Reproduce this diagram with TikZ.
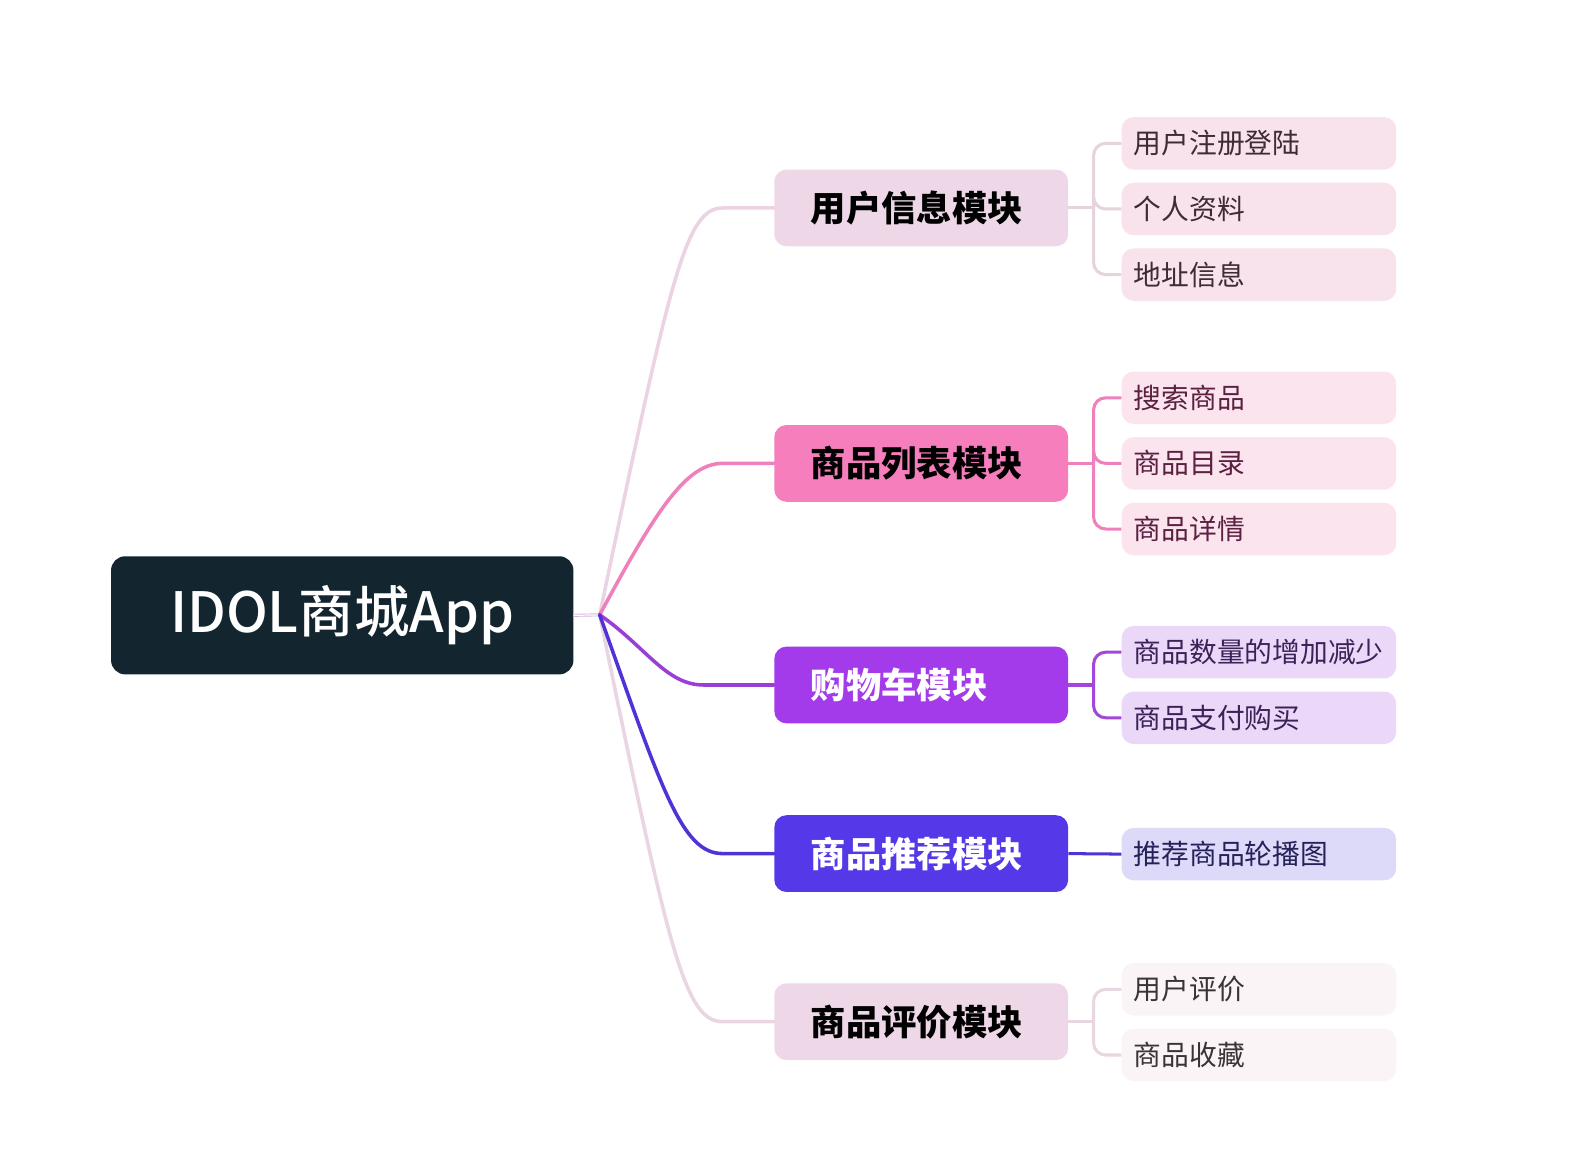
\documentclass[tikz,border=0pt]{standalone}
\usepackage{fontspec}
\setmainfont{Noto Sans CJK SC}
\newfontfamily\rootfont{Noto Sans CJK SC Medium}
\usetikzlibrary{calc}
\definecolor{rootc}{HTML}{13262F}
\definecolor{lightbox}{HTML}{EED8E8}
\definecolor{pinkbox}{HTML}{F77EBD}
\definecolor{purplebox}{HTML}{A33BEA}
\definecolor{indigobox}{HTML}{5538E7}
\definecolor{lightline}{HTML}{EBD3E3}
\definecolor{pinkline}{HTML}{EE80BC}
\definecolor{purpleline}{HTML}{9A3FD6}
\definecolor{indigoline}{HTML}{5132D8}
\definecolor{lightlineb}{HTML}{EAD5E2}
\definecolor{gonefill}{HTML}{F8E2EC}
\definecolor{gtwofill}{HTML}{FCE4EF}
\definecolor{gthreefill}{HTML}{EBD8F8}
\definecolor{gfourfill}{HTML}{DDD9F8}
\definecolor{gfivefill}{HTML}{FBF4F7}
\definecolor{gonetext}{HTML}{3D2B36}
\definecolor{gtwotext}{HTML}{5A2141}
\definecolor{gthreetext}{HTML}{3B2358}
\definecolor{gfourtext}{HTML}{25215A}
\definecolor{gfivetext}{HTML}{3A3338}
\definecolor{gonebr}{HTML}{E5D3DD}
\definecolor{gthreebr}{HTML}{A346DA}
\definecolor{gfivebr}{HTML}{E8D6E0}
\definecolor{rootline}{HTML}{D9B5DC}
\begin{document}
\begin{tikzpicture}[x=1pt,y=-1pt,
  rootbox/.style={rounded corners=14pt, fill=rootc, minimum width=458pt, minimum height=117pt,
    inner sep=0pt, text=white, font=\rootfont\fontsize{55pt}{60pt}\selectfont},
  lvone/.style={rounded corners=12pt, minimum width=291pt, minimum height=76pt,
    text width=219pt, inner xsep=36pt, inner ysep=0pt, align=left,
    font=\fontsize{35pt}{40pt}\selectfont\bfseries},
  lvtwo/.style={rounded corners=12pt, minimum width=272pt, minimum height=52pt,
    text width=248pt, inner xsep=12pt, inner ysep=0pt, align=left,
    font=\fontsize{27.5pt}{32pt}\selectfont},
  mainlink/.style={line width=3.5pt, line cap=round},
  sublink/.style={line width=3pt, rounded corners=12pt}
]
\useasboundingbox[fill=white] (0,0) rectangle (1568,1142);

% root
\node[rootbox] (root) at (339,609.5) {IDOL商城App};
\coordinate (J) at (594,609);

% level one
\node[lvone, fill=lightbox, text=black] (n1) at (912.5,206) {用户信息模块};
\node[lvone, fill=pinkbox, text=black] (n2) at (912.5,459) {商品列表模块};
\node[lvone, fill=purplebox, text=white] (n3) at (912.5,678.5) {购物车模块};
\node[lvone, fill=indigobox, text=white] (n4) at (912.5,845.5) {商品推荐模块};
\node[lvone, fill=lightbox, text=black] (n5) at (912.5,1012) {商品评价模块};

% level two
\node[lvtwo, fill=gonefill, text=gonetext] (a1) at (1247,142) {用户注册登陆};
\node[lvtwo, fill=gonefill, text=gonetext] (a2) at (1247,207) {个人资料};
\node[lvtwo, fill=gonefill, text=gonetext] (a3) at (1247,272) {地址信息};
\node[lvtwo, fill=gtwofill, text=gtwotext] (b1) at (1247,394) {搜索商品};
\node[lvtwo, fill=gtwofill, text=gtwotext] (b2) at (1247,459) {商品目录};
\node[lvtwo, fill=gtwofill, text=gtwotext] (b3) at (1247,524) {商品详情};
\node[lvtwo, fill=gthreefill, text=gthreetext] (c1) at (1247,646) {商品数量的增加减少};
\node[lvtwo, fill=gthreefill, text=gthreetext] (c2) at (1247,711) {商品支付购买};
\node[lvtwo, fill=gfourfill, text=gfourtext] (d1) at (1247,846) {推荐商品轮播图};
\node[lvtwo, fill=gfivefill, text=gfivetext] (e1) at (1247,980) {用户评价};
\node[lvtwo, fill=gfivefill, text=gfivetext] (e2) at (1247,1045) {商品收藏};

% root to junction
\draw[draw=rootline, line width=0.9pt, double=white, double distance=1.2pt] (root.east) -- (J);

% level one links
\draw[mainlink, lightline] (J) .. controls +(70,-334) and ($(n1.west)+(-88,0)$) .. ($(n1.west)+(-51,0)$) -- (n1.west);
\draw[mainlink, lightlineb] (J) .. controls +(68,331) and ($(n5.west)+(-89,0)$) .. ($(n5.west)+(-51,0)$) -- (n5.west);
\draw[mainlink, pinkline] (J) .. controls +(56,-104) and ($(n2.west)+(-87,0)$) .. ($(n2.west)+(-51,0)$) -- (n2.west);
\draw[mainlink, purpleline] (J) .. controls +(46,32) and ($(n3.west)+(-107,0)$) .. ($(n3.west)+(-70,0)$) -- (n3.west);
\draw[mainlink, indigoline] (J) .. controls +(61,171) and ($(n4.west)+(-92,0)$) .. ($(n4.west)+(-51,0)$) -- (n4.west);

% level two brackets
\coordinate (k1) at ($(n1.east)+(25,0)$);
\coordinate (k2) at ($(n2.east)+(25,0)$);
\coordinate (k3) at ($(n3.east)+(25,0)$);
\coordinate (k5) at ($(n5.east)+(25,0)$);

\draw[sublink, gonebr] (n1.east) -- (k1);
\draw[sublink, gonebr] (k1) |- (a1.west);
\draw[sublink, gonebr] (k1) |- (a2.west);
\draw[sublink, gonebr] (k1) |- (a3.west);

\draw[sublink, pinkline] (n2.east) -- (k2);
\draw[sublink, pinkline] (k2) |- (b1.west);
\draw[sublink, pinkline] (k2) |- (b2.west);
\draw[sublink, pinkline] (k2) |- (b3.west);

\draw[sublink, gthreebr] (n3.east) -- (k3);
\draw[sublink, gthreebr] (k3) |- (c1.west);
\draw[sublink, gthreebr] (k3) |- (c2.west);

\draw[sublink, indigoline] (n4.east) -- (d1.west);

\draw[sublink, gfivebr] (n5.east) -- (k5);
\draw[sublink, gfivebr] (k5) |- (e1.west);
\draw[sublink, gfivebr] (k5) |- (e2.west);
\end{tikzpicture}
\end{document}
